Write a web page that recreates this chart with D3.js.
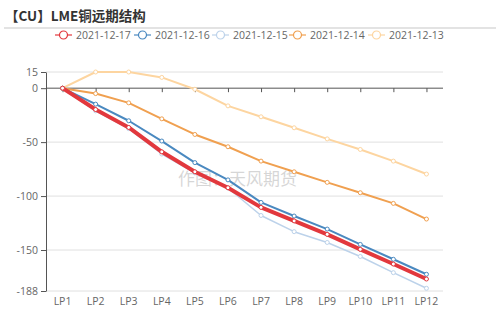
<!DOCTYPE html>
<html><head><meta charset="utf-8">
<script src="https://cdn.jsdelivr.net/npm/d3@7"></script>
<style>html,body{margin:0;padding:0;background:#fff;}svg{display:block;}</style>
</head><body>
<svg id="c" width="500" height="324"></svg>
<script>
const categories = ["LP1","LP2","LP3","LP4","LP5","LP6","LP7","LP8","LP9","LP10","LP11","LP12"];
const seriesNames = ["2021-12-17","2021-12-16","2021-12-15","2021-12-14","2021-12-13"];
const s1217 = [0,-19.8,-36.4,-59,-77.5,-92.3,-110.5,-123,-135.5,-149.4,-163,-176.9];
const s1216 = [0,-14.8,-30.2,-49,-69,-85,-105.9,-118.5,-130.6,-144.8,-158.6,-172.5];
const s1215 = [0,-21,-37.5,-61,-78.5,-92.5,-118,-133,-143,-156,-171,-185.5];
const s1214 = [0,-5,-13.6,-28.4,-42.9,-54.3,-67.6,-77.5,-87.3,-96.9,-106.8,-121.3];
const s1213 = [0,15,15,10,-1,-16.4,-26.5,-36.7,-47,-56.8,-67.6,-79.6];
const yTicks = [15,0,-50,-100,-150,-188];
const colors = ["#e2383d","#4a89c0","#bcd2ea","#f0a050","#fdd5a0"];
const widths = [4,2,1.5,2,2];
const allSeries = [s1217,s1216,s1215,s1214,s1213];

const svg = d3.select("#c");
const font = "'Noto Sans CJK SC','Noto Sans',sans-serif";

// Title
svg.append("text").attr("x",5).attr("y",21).attr("font-family",font)
  .attr("font-size",13.5).attr("font-weight","bold").attr("fill","#333")
  .text("【CU】LME铜远期结构");
svg.append("line").attr("x1",4).attr("x2",496).attr("y1",28).attr("y2",28)
  .attr("stroke","#e3e3e3").attr("stroke-width",2);

// Legend
const legendX = [55,134,212,289,368];
seriesNames.forEach((n,i)=>{
  const g = svg.append("g").attr("transform",`translate(${legendX[i]},35)`);
  g.append("line").attr("x1",0).attr("x2",17).attr("y1",0).attr("y2",0)
    .attr("stroke",colors[i]).attr("stroke-width",1.2);
  g.append("circle").attr("cx",8.5).attr("cy",0).attr("r",4)
    .attr("fill","#fff").attr("stroke",colors[i]).attr("stroke-width",1.2);
  g.append("text").attr("x",21).attr("y",4).attr("font-family","'Open Sans',sans-serif")
    .attr("font-size",10.5).attr("fill","#666").text(n);
});

const gLeft = 46, gRight = 443, gTop = 72, gBottom = 291;
const x = d3.scalePoint().domain(categories).range([gLeft,gRight]).padding(0.5);
const y = d3.scaleLinear().domain([-188,15]).range([gBottom,gTop]);

// gridlines
svg.append("g").selectAll("line").data(yTicks.filter(t=>t!==0)).join("line")
  .attr("x1",gLeft).attr("x2",gRight).attr("y1",d=>y(d)).attr("y2",d=>y(d))
  .attr("stroke","#e0e0e0").attr("stroke-width",1);

// watermark
svg.append("text").attr("x",178).attr("y",185).attr("font-family",font)
  .attr("font-size",17).attr("fill","#bbb").attr("fill-opacity",0.6)
  .text("作图：天风期货");

// y axis
const yAxis = d3.axisLeft(y).tickValues(yTicks).tickSize(5).tickSizeOuter(0).tickPadding(3)
  .tickFormat(d=>String(d));
const ya = svg.append("g").attr("transform",`translate(${gLeft},0)`).call(yAxis);
ya.select(".domain").attr("stroke","#555");
ya.selectAll(".tick line").attr("stroke","#555");
ya.selectAll(".tick text").attr("fill","#666").attr("font-size",10.5)
  .attr("font-family","'Open Sans',sans-serif");

// x axis line at zero, ticks
const xAxis = d3.axisBottom(x).tickSize(4).tickSizeOuter(0).tickFormat("");
const xa = svg.append("g").attr("transform",`translate(0,${y(0)})`).call(xAxis);
xa.select(".domain").attr("stroke","#555").attr("d",`M${gLeft},0H${gRight}`);
xa.selectAll(".tick line").attr("stroke","#555");
// labels at bottom
svg.append("g").selectAll("text").data(categories).join("text")
  .attr("x",d=>x(d)).attr("y",305).attr("text-anchor","middle")
  .attr("font-family","'Open Sans',sans-serif").attr("font-size",10.5).attr("fill","#666")
  .text(d=>d);

// lines
const line = d3.line().x((d,i)=>x(categories[i])).y(d=>y(d));
const order = [2,4,3,1,0];
order.forEach(i=>{
  const data = allSeries[i];
  svg.append("path").datum(data).attr("d",line).attr("fill","none")
    .attr("stroke",colors[i]).attr("stroke-width",widths[i]).attr("stroke-linejoin","round");
  svg.append("g").selectAll("circle").data(data).join("circle")
    .attr("cx",(d,k)=>x(categories[k])).attr("cy",d=>y(d)).attr("r",2)
    .attr("fill","#fff").attr("stroke",colors[i]).attr("stroke-width",1);
});
</script>
</body></html>
